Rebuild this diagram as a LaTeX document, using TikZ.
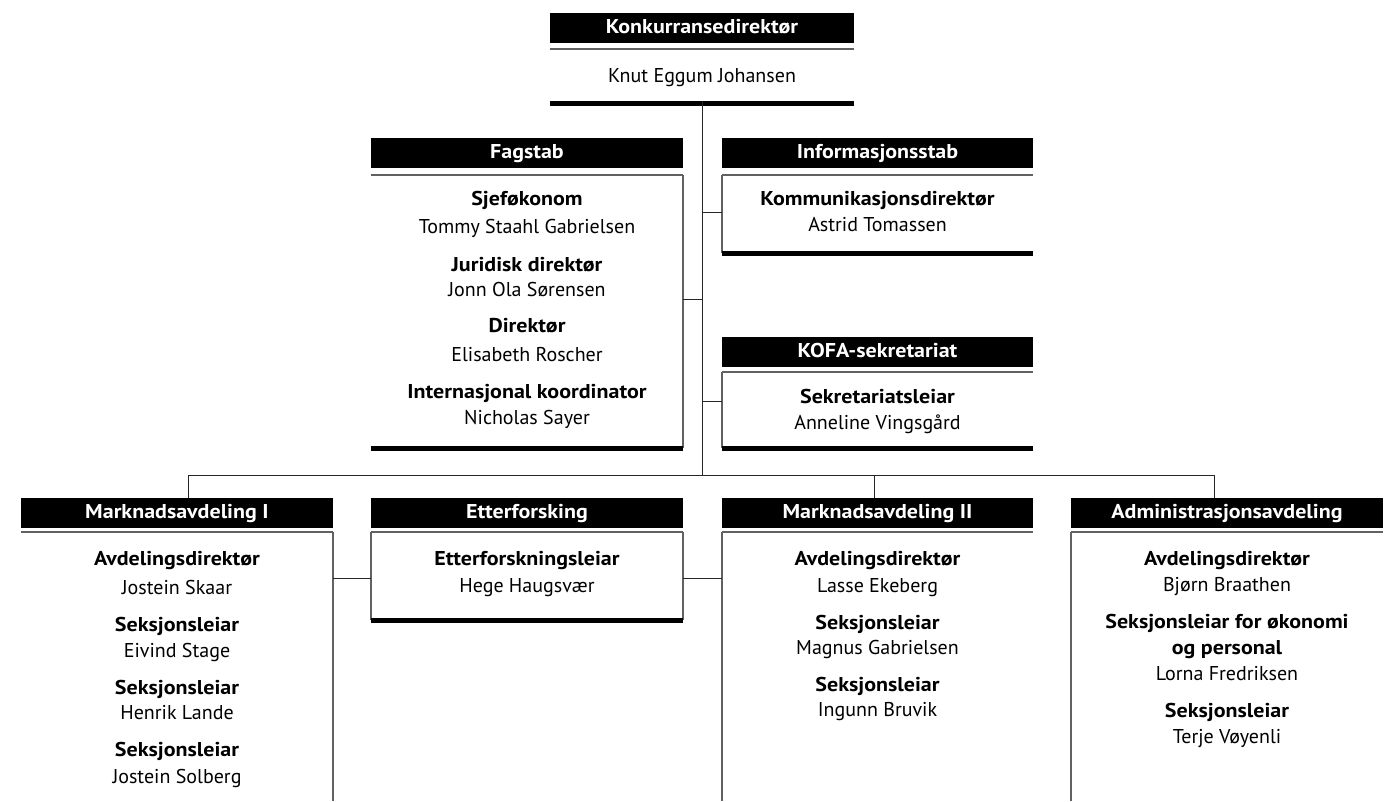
\documentclass[tikz,border=0pt]{standalone}
\usepackage{fontspec}
\setmainfont[BoldFeatures={FakeStretch=1.1}]{PT Sans}
\definecolor{boxline}{gray}{0.38}
\begin{document}
\begin{tikzpicture}[x=1pt,y=-1pt,
  hdr/.style={fill=black,text=white,font=\bfseries\fontsize{20}{24}\selectfont,
    minimum height=30pt,inner sep=0pt,text height=14pt,text depth=3pt},
  body/.style={inner sep=0pt,outer sep=0pt},
  role/.style={anchor=base,inner sep=0pt,font=\bfseries\fontsize{20}{24}\selectfont},
  pers/.style={anchor=base,inner sep=0pt,font=\fontsize{20}{24}\selectfont},
  topline/.style={draw=boxline,line width=1.5pt},
  sideline/.style={draw=boxline,line width=1.5pt},
  bottomline/.style={draw=black,line width=5pt},
  conn/.style={draw=black!85,line width=1pt}]
\useasboundingbox (0,0) rectangle (1397,801);

% ---------- headers ----------
\node[hdr,minimum width=304pt] (hk) at (702,28) {Konkurransedirektør};
\node[hdr,minimum width=312pt] (hf) at (527,152.5) {Fagstab};
\node[hdr,minimum width=311pt] (hi) at (877.5,152.5) {Informasjonsstab};
\node[hdr,minimum width=311pt] (hs) at (877.5,352) {KOFA-sekretariat};
\node[hdr,minimum width=312pt] (hm1) at (177,513) {Marknadsavdeling I};
\node[hdr,minimum width=312pt] (he) at (527,513) {Etterforsking};
\node[hdr,minimum width=311pt] (hm2) at (877.5,513) {Marknadsavdeling II};
\node[hdr,minimum width=312pt] (ha) at (1227,513) {Administrasjonsavdeling};

% ---------- bodies ----------
\node[body,minimum width=304pt,minimum height=54pt] (bk) at (702,76) {};
\node[body,minimum width=312pt,minimum height=273pt] (bf) at (527,311.5) {};
\node[body,minimum width=311pt,minimum height=78pt] (bi) at (877.5,214) {};
\node[body,minimum width=311pt,minimum height=76pt] (bs) at (877.5,410) {};
\node[body,minimum width=312pt,minimum height=269pt] (bm1) at (177,666.5) {};
\node[body,minimum width=312pt,minimum height=88pt] (be) at (527,576) {};
\node[body,minimum width=311pt,minimum height=269pt] (bm2) at (877.5,666.5) {};
\node[body,minimum width=312pt,minimum height=269pt] (ba) at (1227,666.5) {};

% top lines
\foreach \b in {bk,bf,bi,bs,bm1,be,bm2,ba}
  \draw[topline] (\b.north west) -- (\b.north east);
% side lines
\draw[sideline] (bf.north east) -- (bf.south east);
\draw[sideline] (bi.north west) -- (bi.south west);
\draw[sideline] (bs.north west) -- (bs.south west);
\draw[sideline] (bm1.north east) -- (bm1.south east);
\draw[sideline] (be.north west) -- (be.south west);
\draw[sideline] (be.north east) -- (be.south east);
\draw[sideline] (bm2.north west) -- (bm2.south west);
\draw[sideline] (ba.north west) -- (ba.south west);
% bottom lines
\foreach \b in {bk,bf,bi,bs,be}
  \draw[bottomline] (\b.south west) -- (\b.south east);

% ---------- texts ----------
\node[pers] (tk) at (702,82) {Knut Eggum Johansen};

\node[role] (f1) at (527,205) {Sjeføkonom};
\node[pers] (f2) at (527,233) {Tommy Staahl Gabrielsen};
\node[role] (f3) at (527,271) {Juridisk direktør};
\node[pers] (f4) at (527,296) {Jonn Ola Sørensen};
\node[role] (f5) at (527,332) {Direktør};
\node[pers] (f6) at (527,361) {Elisabeth Roscher};
\node[role] (f7) at (527,398) {Internasjonal koordinator};
\node[pers] (f8) at (527,424) {Nicholas Sayer};

\node[role] (i1) at (877.5,205) {Kommunikasjonsdirektør};
\node[pers] (i2) at (877.5,231) {Astrid Tomassen};

\node[role] (s1) at (877.5,403) {Sekretariatsleiar};
\node[pers] (s2) at (877.5,429) {Anneline Vingsgård};

\node[role] (m1) at (177,565) {Avdelingsdirektør};
\node[pers] (m2) at (177,594) {Jostein Skaar};
\node[role] (m3) at (177,631) {Seksjonsleiar};
\node[pers] (m4) at (177,657) {Eivind Stage};
\node[role] (m5) at (177,694) {Seksjonsleiar};
\node[pers] (m6) at (177,719) {Henrik Lande};
\node[role] (m7) at (177,756) {Seksjonsleiar};
\node[pers] (m8) at (177,783) {Jostein Solberg};

\node[role] (e1) at (527,565) {Etterforskningsleiar};
\node[pers] (e2) at (527,592) {Hege Haugsvær};

\node[role] (n1) at (877.5,565) {Avdelingsdirektør};
\node[pers] (n2) at (877.5,592) {Lasse Ekeberg};
\node[role] (n3) at (877.5,629) {Seksjonsleiar};
\node[pers] (n4) at (877.5,654) {Magnus Gabrielsen};
\node[role] (n5) at (877.5,691) {Seksjonsleiar};
\node[pers] (n6) at (877.5,716) {Ingunn Bruvik};

\node[role] (a1) at (1227,565) {Avdelingsdirektør};
\node[pers] (a2) at (1227,591) {Bjørn Braathen};
\node[role] (a3) at (1227,628) {Seksjonsleiar for økonomi};
\node[role] (a4) at (1227,654) {og personal};
\node[pers] (a5) at (1227,680) {Lorna Fredriksen};
\node[role] (a6) at (1227,717) {Seksjonsleiar};
\node[pers] (a7) at (1227,743) {Terje Vøyenli};

% ---------- connectors ----------
\coordinate (bus) at (702,475);
\coordinate (fagc) at (683,299);
\coordinate (infc) at (722,212);
\coordinate (kofc) at (722,401);
\coordinate (m1c) at (188,475);
\coordinate (m2c) at (874,475);
\coordinate (adc) at (1214,475);
\coordinate (el) at (371,578);
\coordinate (er) at (683,578);

\draw[conn] ([yshift=2.5pt]bk.south) -- (bus);
\draw[conn] (fagc) -- (fagc -| bus);
\draw[conn] (infc) -- (infc -| bus);
\draw[conn] (kofc) -- (kofc -| bus);
\draw[conn] (m1c) -- (adc);
\draw[conn] (m1c) -- (m1c |- hm1.north);
\draw[conn] (m2c) -- (m2c |- hm2.north);
\draw[conn] (adc) -- (adc |- ha.north);
\draw[conn] (el) -- (el -| bm1.east);
\draw[conn] (er) -- (er -| bm2.west);
\end{tikzpicture}
\end{document}
